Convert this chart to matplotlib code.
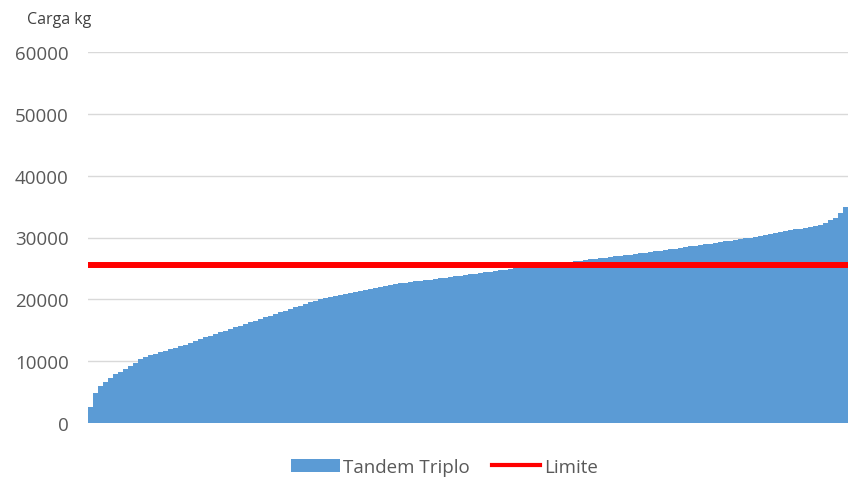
import numpy as np
import matplotlib
matplotlib.use("Agg")
import matplotlib.pyplot as plt
from matplotlib.patches import Patch
from matplotlib.lines import Line2D

# sorted axle loads (kg)
carga = [2600, 4850, 6000, 6650, 7300, 7950, 8250, 8750, 9200, 9700,
         10350, 10700, 11000, 11150, 11500, 11650, 11950, 12150, 12450, 12600,
         12950, 13250, 13600, 13850, 14150, 14400, 14700, 14950, 15200, 15500,
         15750, 16000, 16300, 16550, 16800, 17100, 17350, 17650, 17900, 18150,
         18450, 18700, 18950, 19250, 19500, 19800, 20100, 20250, 20400, 20550,
         20700, 20900, 21050, 21200, 21350, 21500, 21650, 21800, 21950, 22100,
         22250, 22450, 22600, 22700, 22800, 22900, 23000, 23100, 23200, 23300,
         23400, 23500, 23600, 23750, 23850, 23950, 24050, 24150, 24250, 24350,
         24450, 24600, 24700, 24800, 24900, 25000, 25100, 25200, 25300, 25400,
         25500, 25550, 25650, 25750, 25850, 25950, 26050, 26150, 26250, 26350,
         26450, 26550, 26650, 26750, 26850, 26950, 27050, 27150, 27250, 27350,
         27450, 27550, 27650, 27750, 27850, 27950, 28100, 28200, 28300, 28450,
         28550, 28650, 28750, 28900, 29000, 29150, 29250, 29400, 29500, 29650,
         29750, 29900, 30000, 30150, 30250, 30400, 30550, 30700, 30850, 31000,
         31150, 31300, 31400, 31550, 31700, 31900, 32100, 32400, 32750, 33200,
         33900, 35000]
limite = 25600
yticks = [0, 10000, 20000, 30000, 40000, 50000, 60000]

azul = "#5B9BD5"
cinza = "#595959"
plt.rcParams['font.family'] = ['Open Sans', 'DejaVu Sans']

fig = plt.figure(figsize=(8.48, 4.81), dpi=100)
ax = fig.add_axes([88/848, 57/481, 760/848, 371/481])

x = np.arange(len(carga))
ax.bar(x, carga, width=1.0, align='edge', color=azul, linewidth=0,
       antialiased=False, zorder=2)
xl = np.arange(len(carga) + 1)
ax.plot(xl, np.full(len(xl), limite), color="#FF0000", lw=4.3,
        solid_capstyle='butt', zorder=3)

ax.set_xlim(0, len(carga))
ax.set_ylim(0, 60000)
ax.set_yticks(yticks)
ax.set_yticklabels([str(v) for v in yticks])
ax.set_xticks([])
ax.tick_params(axis='y', length=0, pad=14, labelsize=13.5, labelcolor=cinza)
ax.grid(axis='y', color="#D9D9D9", lw=1.0, zorder=0)
ax.set_axisbelow(True)
for s in ax.spines.values():
    s.set_visible(False)

fig.text(27/848, 1 - 20/481, "Carga kg", fontsize=11.5, color="#404040",
         va='center', ha='left')

handles = [Patch(facecolor=azul, edgecolor='none', label="Tandem Triplo"),
           Line2D([], [], color="#FF0000", lw=3, label="Limite")]
fig.legend(handles=handles, loc='center', bbox_to_anchor=(0.524, 1 - 468/481),
           ncol=2, frameon=False, fontsize=13.5, labelcolor=cinza,
           handlelength=2.6, handletextpad=0.2, columnspacing=1.15)

fig.savefig("out.png", dpi=100)
